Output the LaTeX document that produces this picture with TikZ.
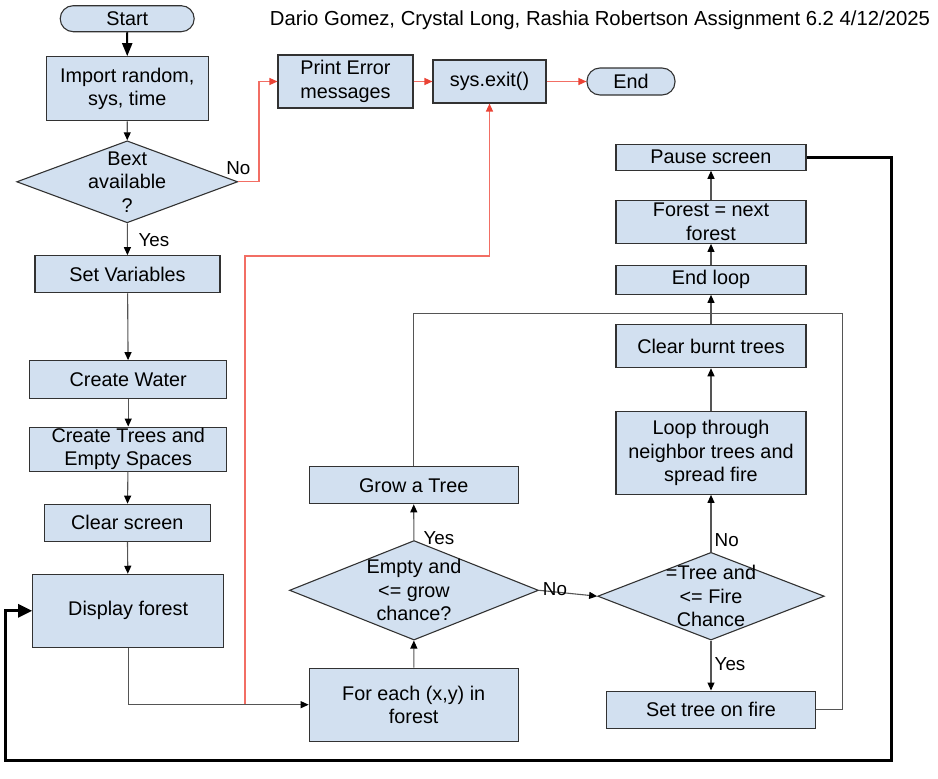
\documentclass[tikz,border=0pt]{standalone}
\usepackage{fontspec}
\setmainfont{Liberation Sans}
\usetikzlibrary{arrows.meta,shapes.geometric}

\tikzset{
  box/.style={draw=boxLine, fill=boxFill, line width=1.1pt, inner sep=0pt, align=center},
  terminal/.style={box, rounded corners=13pt},
  decision/.style={diamond, draw=boxLine, fill=boxFill, line width=1.1pt, inner sep=0pt},
  flow/.style={draw=flowLine, line width=1.1pt, -{Triangle[length=8pt,width=7pt,color=black]}},
  startflow/.style={draw=black, line width=2pt, -{Triangle[length=13pt,width=10pt]}},
  errflow/.style={draw=errLine, line width=1.3pt, -{Triangle[length=8pt,width=7pt,color=errHead]}},
  loopflow/.style={draw=black, line width=3pt, -{Triangle[length=14pt,width=13pt]}},
  answer/.style={inner sep=0pt, font=\fontsize{18.8}{22}\selectfont}
}

\begin{document}
\begin{tikzpicture}[x=1pt, y=-1pt, font=\fontsize{19.8}{23.5}\selectfont]
% Colors
\definecolor{boxFill}{RGB}{210,224,240}
\definecolor{boxLine}{RGB}{50,50,50}
\definecolor{flowLine}{RGB}{85,85,85}
\definecolor{errLine}{RGB}{242,110,100}
\definecolor{errHead}{RGB}{234,67,53}
\useasboundingbox (0,0) rectangle (938,779);
% Left column
\node[terminal, minimum width=134pt, minimum height=26pt] (start) at (127.2,18.7) {Start};
\node[inner sep=0pt, font=\fontsize{20.3}{24}\selectfont] (title) at (600,20) {Dario Gomez, Crystal Long, Rashia Robertson Assignment 6.2 4/12/2025};
\node[box, minimum width=162pt, minimum height=64pt] (import) at (127.3,88.7) {Import random,\\sys, time};
\node[decision, minimum width=221pt, minimum height=82pt,
  label={[align=center]center:Bext\\available\\?}] (bext) at (127.2,181.8) {};
\node[box, minimum width=185pt, minimum height=37pt] (setvars) at (127.5,274.2) {Set Variables};
\node[box, minimum width=197pt, minimum height=37.6pt] (water) at (128.2,379.5) {Create Water};
\node[box, minimum width=197pt, minimum height=44pt] (trees) at (128.2,449.1) {Create Trees and\\Empty Spaces};
\node[box, minimum width=166pt, minimum height=37pt] (clearscr) at (127.3,522.7) {Clear screen};
\node[box, minimum width=191pt, minimum height=73pt] (display) at (128.2,610.8) {Display forest};
% Error branch
\node[box, minimum width=135pt, minimum height=53pt] (printerr) at (345.5,81.5) {Print Error\\messages};
\node[box, minimum width=113pt, minimum height=43pt] (sysexit) at (489.5,81.5) {sys.exit()};
\node[terminal, minimum width=88pt, minimum height=27pt] (endnode) at (631,81.5) {End};
% Middle column
\node[box, minimum width=209pt, minimum height=73pt] (foreach) at (413.7,704.7) {For each (x,y) in\\forest};
\node[decision, minimum width=249pt, minimum height=99.5pt,
  label={[align=center]center:Empty and\\<= grow\\chance?}] (emptyq) at (414,590.3) {};
\node[box, minimum width=209pt, minimum height=37pt] (grow) at (413.7,485.3) {Grow a Tree};
% Right column
\node[decision, minimum width=226.6pt, minimum height=87.7pt,
  label={[align=center]center:=Tree and\\<= Fire\\Chance}] (treeq) at (711,596.2) {};
\node[box, minimum width=209pt, minimum height=37.3pt] (setfire) at (711,709.7) {Set tree on fire};
\node[box, minimum width=190pt, minimum height=82.6pt] (spread) at (711,453) {Loop through\\neighbor trees and\\spread fire};
\node[box, minimum width=190pt, minimum height=43.4pt] (clearburnt) at (711,346) {Clear burnt trees};
\node[box, minimum width=190pt, minimum height=29pt] (endloop) at (711,279.8) {End loop};
\node[box, minimum width=190pt, minimum height=43.3pt] (nextforest) at (711,221.7) {Forest = next\\forest};
\node[box, minimum width=190pt, minimum height=26pt] (pause) at (711,157.2) {Pause screen};
% Bend points
\coordinate (errTap) at (245,704.3);
\coordinate (errBend) at (489.5,256);
\coordinate (loopJoin) at (711,313.7);
\coordinate (loopCorner) at (5.4,760.7);
% Normal flow
\begin{scope}
  \draw[startflow] (start) -- (import);    % start--import
  \draw[flow] (import) -- (bext);          % import--bext
  \draw[flow] (bext) -- (setvars);         % bext--setvars
  \draw[flow] (setvars) -- (water);        % setvars--water
  \draw[flow] (water) -- (trees);          % water--trees
  \draw[flow] (trees) -- (clearscr);       % trees--clearscr
  \draw[flow] (clearscr) -- (display);     % clearscr--display
  \draw[flow] (display.south) |- (foreach.west); % display--foreach
  \draw[flow] (foreach) -- (emptyq);       % foreach--emptyq
  \draw[flow] (emptyq) -- (grow);          % emptyq--grow
  \draw[flow] (emptyq.east) -- (treeq.west); % emptyq--treeq
  \draw[flow] (treeq) -- (setfire);        % treeq--setfire
  \draw[flow] (treeq) -- (spread);         % treeq--spread
  \draw[flow] (spread) -- (clearburnt);    % spread--clearburnt
  \draw[flow] (clearburnt) -- (endloop);   % clearburnt--endloop
  \draw[flow] (endloop) -- (nextforest);   % endloop--nextforest
  \draw[flow] (nextforest) -- (pause);     % nextforest--pause
  \draw[flow, -] (grow.north) |- (loopJoin); % grow--endloop
  \draw[flow, -] (setfire.east) -- ++(26.6,0) |- (loopJoin); % setfire--endloop
\end{scope}
% Error flow
\begin{scope}
  \draw[errflow] (bext.east) -- ++(20.6,0) |- (printerr.west); % bext--printerr
  \draw[errflow] (printerr) -- (sysexit);  % printerr--sysexit
  \draw[errflow] (sysexit) -- (endnode);   % sysexit--endnode
  \draw[errflow] (errTap) |- (errBend) -- (sysexit.south); % foreach--sysexit
\end{scope}
% Outer loop
\draw[loopflow] (pause.east) -- ++(84.7,0) |- (loopCorner) |- (display.west); % pause--display
% Answers
\node[answer] (bextNo) at (238.3,168.3) {No};
\node[answer] (bextYes) at (154,240) {Yes};
\node[answer] (emptyYes) at (439,538) {Yes};
\node[answer] (emptyNo) at (555,589) {No};
\node[answer] (treeNo) at (726.7,540) {No};
\node[answer] (treeYes) at (730,664) {Yes};
\end{tikzpicture}
\end{document}
